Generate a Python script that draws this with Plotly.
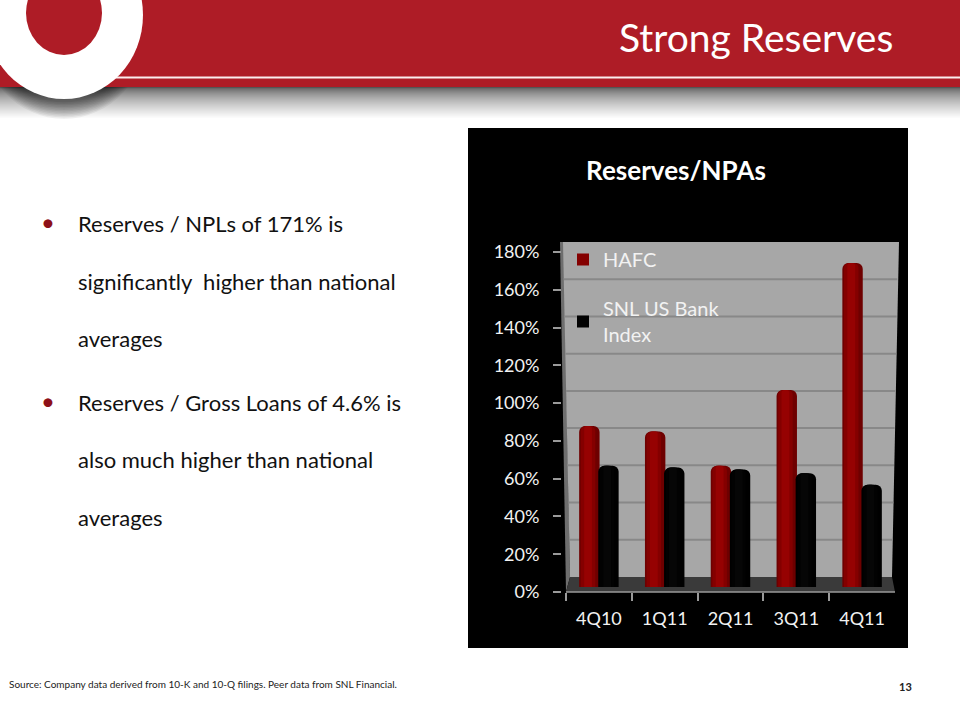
import plotly.graph_objects as go

# ---- data ----
quarters = ["4Q10", "1Q11", "2Q11", "3Q11", "4Q11"]
hafc = [85, 82, 64, 104, 171]
snl = [64, 63, 62, 60, 54]
axis_ticks = [0, 20, 40, 60, 80, 100, 120, 140, 160, 180]
axis_labels = ["0%", "20%", "40%", "60%", "80%", "100%", "120%", "140%", "160%", "180%"]
slide_title = "Strong Reserves"
chart_title = "Reserves/NPAs"
bullets = [
    ["Reserves / NPLs of 171% is", "significantly  higher than national", "averages"],
    ["Reserves / Gross Loans of 4.6% is", "also much higher than national", "averages"],
]
source_note = "Source: Company data derived from 10-K and 10-Q filings. Peer data from SNL Financial."
page_number = "13"

W, H = 960, 720
def px(x): return x / W
def py(y): return 1 - y / H

BODY = "Lato, 'Open Sans', sans-serif"
shapes = []
def rect(x0, y0, x1, y1, color):
    shapes.append(dict(type="rect", xref="paper", yref="paper", x0=px(x0), x1=px(x1),
                       y0=py(y1), y1=py(y0), fillcolor=color, line_width=0, layer="below"))
def ell(x0, y0, x1, y1, color):
    shapes.append(dict(type="circle", xref="paper", yref="paper", x0=px(x0), x1=px(x1),
                       y0=py(y1), y1=py(y0), fillcolor=color, line_width=0, layer="below"))
def poly(points, color):
    d = "M" + " L".join(f"{px(a):.5f},{py(b):.5f}" for a, b in points) + " Z"
    shapes.append(dict(type="path", xref="paper", yref="paper", path=d,
                       fillcolor=color, line_width=0, layer="below"))

# header shadow
for i in range(32):
    t = i / 31
    g = int(85 + (255 - 85) * min(1, t ** 0.62))
    rect(0, 87 + i, W, 88 + i, f"rgb({g},{g},{g})")
# ring shadow
for i in range(12, 0, -1):
    a = 0.05
    ell(64 - 79 - i * 0.5, 15 - 84, 64 + 79 + i * 0.5, 99 + i * 1.5 + 2, f"rgba(0,0,0,{a})")
# band
rect(0, 0, W, 87, "#AE1C26")
rect(115, 76.5, W, 78.5, "#FBEDEE")
ell(64 - 79, 15 - 84, 64 + 79, 99, "#FFFFFF")
ell(26, -29, 102, 55, "#AE1C26")

# chart panel
rect(468, 128, 908, 648, "#000000")
poly([(560, 242), (564, 242), (570, 577), (566, 592)], "#6E6E6E")
poly([(563, 242), (899, 242), (892, 577), (570, 577)], "#A7A7A7")
poly([(570, 577), (892, 577), (895, 592), (566, 592)], "#3A3A3A")

# gridlines on the back wall
for v in axis_ticks[1:-1]:
    f = v / 180
    shapes.append(dict(type="line", xref="paper", yref="y3",
                       x0=px(570 - 7 * f), x1=px(892 + 6 * f), y0=v, y1=v,
                       line=dict(color="#888888", width=2), layer="below"))
shapes.append(dict(type="line", xref="paper", yref="paper", x0=px(566), x1=px(895),
                   y0=py(592), y1=py(592), line=dict(color="#9A9A9A", width=1.5), layer="below"))

annotations = [
    dict(text=slide_title, x=px(895), y=py(37), xanchor="right", yanchor="middle",
         font=dict(family=BODY, size=39, color="#FFFFFF")),
    dict(text=source_note, x=px(7), y=py(684), xanchor="left", yanchor="middle",
         font=dict(family=BODY, size=10, color="#222222")),
    dict(text="<b>" + page_number + "</b>", x=px(905), y=py(686), xanchor="center", yanchor="middle",
         font=dict(family=BODY, size=11, color="#222222")),
]
line_y = [[223, 282, 338], [402, 460, 517]]
bullet_y = [221, 400]
for para, ys, by in zip(bullets, line_y, bullet_y):
    for txt, yy in zip(para, ys):
        annotations.append(dict(text=txt, x=px(76), y=py(yy), xanchor="left", yanchor="middle",
                                font=dict(family=BODY, size=22, color="#111111")))
    annotations.append(dict(text="•", x=px(48), y=py(by), xanchor="center", yanchor="middle",
                            font=dict(family=BODY, size=24, color="#8E1018")))
for a in annotations:
    a.update(xref="paper", yref="paper", showarrow=False, align="left")

fig = go.Figure()

def cylinder(values, name, group_offset, colors):
    # colors: outer → inner layers that give the rounded shading
    widths = [0.31, 0.22, 0.12]
    for k, (col, w) in enumerate(zip(colors, widths)):
        fig.add_trace(go.Bar(
            x=quarters, y=values, xaxis="x", yaxis="y2", name=name,
            width=w, offset=group_offset + (0.31 - w) / 2 - 0.02 * (k > 0),
            marker=dict(color=col, line_width=0, cornerradius=6 if k == 0 else 5),
            showlegend=False, legendgroup=name, hoverinfo="skip" if k else None,
        ))
    # legend key
    fig.add_trace(go.Scatter(x=quarters, y=[None] * 5, xaxis="x", yaxis="y2", name=name, mode="markers",
                             legendgroup=name, marker=dict(symbol="square", size=14, color=colors[1])))

cylinder(hafc, "HAFC", -0.30, ["#6E0000", "#840000", "#960202"])
cylinder(snl, "SNL US Bank<br>Index", -0.01, ["#000000", "#020202", "#060606"])

# empty traces: they only bring the tick axis and the grid axis on to the page
fig.add_trace(go.Scatter(x=quarters, y=[None] * 5, xaxis="x", yaxis="y", showlegend=False))
fig.add_trace(go.Scatter(x=quarters, y=[None] * 5, xaxis="x", yaxis="y3", showlegend=False))

TICK = "#9A9A9A"
fig.update_layout(
    width=W, height=H, autosize=False,
    margin=dict(l=0, r=0, t=0, b=0, autoexpand=False),
    paper_bgcolor="#FFFFFF", plot_bgcolor="rgba(0,0,0,0)",
    barmode="overlay",
    shapes=shapes, annotations=annotations,
    title=dict(text="<b>" + chart_title + "</b>", x=px(676), y=py(171), xanchor="center", yanchor="middle",
               font=dict(family=BODY, size=26, color="#FFFFFF")),
    xaxis=dict(domain=[px(566), px(895)], anchor="y", type="category", categoryorder="array",
               categoryarray=quarters, tickson="boundaries", ticks="outside", ticklen=8, tickwidth=1.5,
               tickcolor=TICK, showline=False, showgrid=False, zeroline=False,
               tickfont=dict(family=BODY, size=18, color="#F2F2F2"), ticklabelstandoff=14),
    yaxis=dict(domain=[py(592), py(252)], range=[0, 180], anchor="free", position=px(561), side="left",
               tickmode="array", tickvals=axis_ticks, ticktext=axis_labels, ticks="outside", ticklen=8,
               tickwidth=1.5, tickcolor=TICK, showgrid=False, zeroline=False, showline=False,
               ticklabelstandoff=10, tickfont=dict(family=BODY, size=18, color="#F2F2F2")),
    yaxis2=dict(domain=[py(587), py(587 - 1.895 * 180)], range=[0, 180], anchor="x", visible=False),
    yaxis3=dict(domain=[py(577), py(242)], range=[0, 180], anchor="x", visible=False),
    legend=dict(x=px(563), y=py(240), xanchor="left", yanchor="top", bgcolor="rgba(0,0,0,0)",
                font=dict(family=BODY, size=20, color="#F2F2F2"), tracegroupgap=20,
                itemsizing="constant"),
    showlegend=True,
)

fig.write_html("out.html", config=dict(displayModeBar=False),
               post_script="document.body.style.margin='0';")
